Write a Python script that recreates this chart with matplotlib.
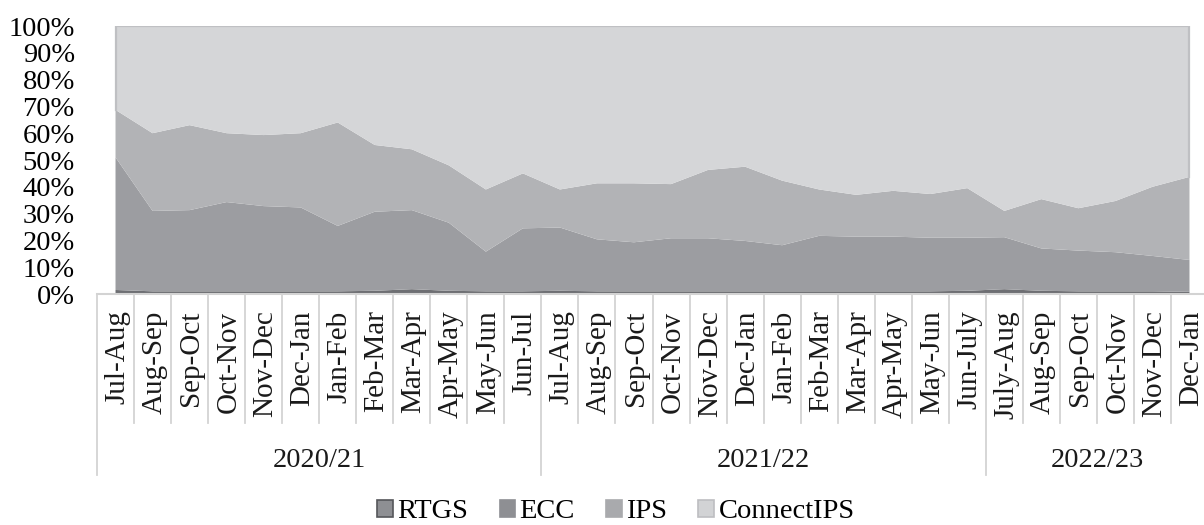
import matplotlib
matplotlib.use("Agg")
import matplotlib.pyplot as plt
import matplotlib.transforms as mtransforms
from matplotlib.patches import Patch

# Share of payment value by system (%), two-month windows
periods = ["Jul-Aug", "Aug-Sep", "Sep-Oct", "Oct-Nov", "Nov-Dec", "Dec-Jan",
           "Jan-Feb", "Feb-Mar", "Mar-Apr", "Apr-May", "May-Jun", "Jun-Jul",
           "Jul-Aug", "Aug-Sep", "Sep-Oct", "Oct-Nov", "Nov-Dec", "Dec-Jan",
           "Jan-Feb", "Feb-Mar", "Mar-Apr", "Apr-May", "May-Jun", "Jun-July",
           "July-Aug", "Aug-Sep", "Sep-Oct", "Oct-Nov", "Nov-Dec", "Dec-Jan"]
fiscal_years = ["2020/21", "2021/22", "2022/23"]
periods_per_year = [12, 12, 6]

rtgs = [1.5, 1.0, 1.0, 1.0, 1.0, 1.0, 1.0, 1.2, 1.8, 1.2, 1.0, 1.0,
        1.2, 1.0, 1.0, 1.0, 1.0, 1.0, 1.0, 1.0, 1.0, 1.0, 1.0, 1.2,
        1.8, 1.2, 1.0, 1.0, 1.0, 0.8]
ecc = [49.5, 30.0, 30.3, 33.3, 31.8, 31.3, 24.4, 29.5, 29.5, 25.4, 14.8, 23.5,
       23.6, 19.4, 18.3, 19.8, 19.8, 18.8, 17.2, 20.7, 20.4, 20.4, 20.0, 19.8,
       19.4, 15.8, 15.2, 14.6, 13.2, 11.9]
ips = [17.7, 29.0, 31.7, 25.7, 26.5, 27.7, 38.6, 24.9, 22.7, 21.4, 23.2, 20.5,
       14.2, 20.9, 22.0, 20.2, 25.5, 27.7, 24.1, 17.3, 15.6, 17.1, 16.3, 18.5,
       9.8, 18.4, 15.8, 19.1, 25.8, 31.0]
connect_ips = [31.3, 40.0, 37.0, 40.0, 40.7, 40.0, 36.0, 44.4, 46.0, 52.0, 61.0, 55.0,
               61.0, 58.7, 58.7, 59.0, 53.7, 52.5, 57.7, 61.0, 63.0, 61.5, 62.7, 60.5,
               69.0, 64.6, 68.0, 65.3, 60.0, 56.3]
series_names = ["RTGS", "ECC", "IPS", "ConnectIPS"]

colors = ["#6e6f73", "#9c9da1", "#b2b3b6", "#d5d6d8"]
legend_faces = ["#8e8f93", "#8e8f93", "#a9aaad", "#d2d3d5"]
legend_edges = ["#55565a", "#8e8f93", "#a9aaad", "#bdbec1"]

plt.rcParams["font.family"] = ["Liberation Serif", "DejaVu Serif"]

W, H = 1204, 525
fig = plt.figure(figsize=(W / 100, H / 100), dpi=100)
left_px, right_px, top_px, bottom_px = 97, 1208, 26, 294
ax = fig.add_axes([left_px / W, 1 - bottom_px / H,
                   (right_px - left_px) / W, (bottom_px - top_px) / H])

x = list(range(len(periods)))
ax.stackplot(x, rtgs, ecc, ips, connect_ips, colors=colors, linewidth=0)

# outline of the top band
upper = [100 - c for c in connect_ips]
ax.plot([0, 0, 29, 29], [upper[0], 100, 100, upper[-1]], color="#bfc0c3",
        lw=1.6, solid_joinstyle="miter", zorder=3)

ax.set_xlim(-0.5, len(periods) - 0.5)
ax.set_ylim(0, 100)
ax.set_yticks(range(0, 101, 10))
ax.set_yticklabels([f"{v}%" for v in range(0, 101, 10)], fontsize=20.5)
ax.tick_params(axis="y", length=0, pad=16)
ax.set_xticks([])
for s in ax.spines.values():
    s.set_visible(False)

trans = mtransforms.blended_transform_factory(ax.transData, ax.transAxes)
line_col = "#d3d3d3"

# category axis baseline
ax.plot([-0.5, len(periods) - 0.5], [0, 0], color=line_col, lw=1.5,
        transform=trans, clip_on=False, zorder=1)

# multi-level category boxes
year_edges = [-0.5]
for n in periods_per_year:
    year_edges.append(year_edges[-1] + n)
for i in range(len(periods) + 1):
    xe = i - 0.5
    y_low = -0.675 if xe in year_edges else -0.481
    ax.plot([xe, xe], [0, y_low], color=line_col, lw=1.3,
            transform=trans, clip_on=False)

for i, lab in enumerate(periods):
    ax.text(i + 0.05, -0.062, lab, rotation=90, ha="center", va="top",
            fontsize=21, transform=trans, color="#1a1a1a")

for k, fy in enumerate(fiscal_years):
    cx = (year_edges[k] + year_edges[k + 1]) / 2
    ax.text(cx, -0.622, fy, ha="center", va="center", fontsize=20.5,
            transform=trans, color="#1a1a1a")

handles = [Patch(facecolor=f, edgecolor=e, linewidth=1.2)
           for f, e in zip(legend_faces, legend_edges)]
fig.legend(handles, series_names, loc="center", bbox_to_anchor=(616 / W, 1 - 512 / H),
           ncol=4, frameon=False, fontsize=20.5, handlelength=0.55, handleheight=0.55,
           handletextpad=0.15, columnspacing=1.1, borderpad=0)

fig.savefig("out.png", dpi=100)
